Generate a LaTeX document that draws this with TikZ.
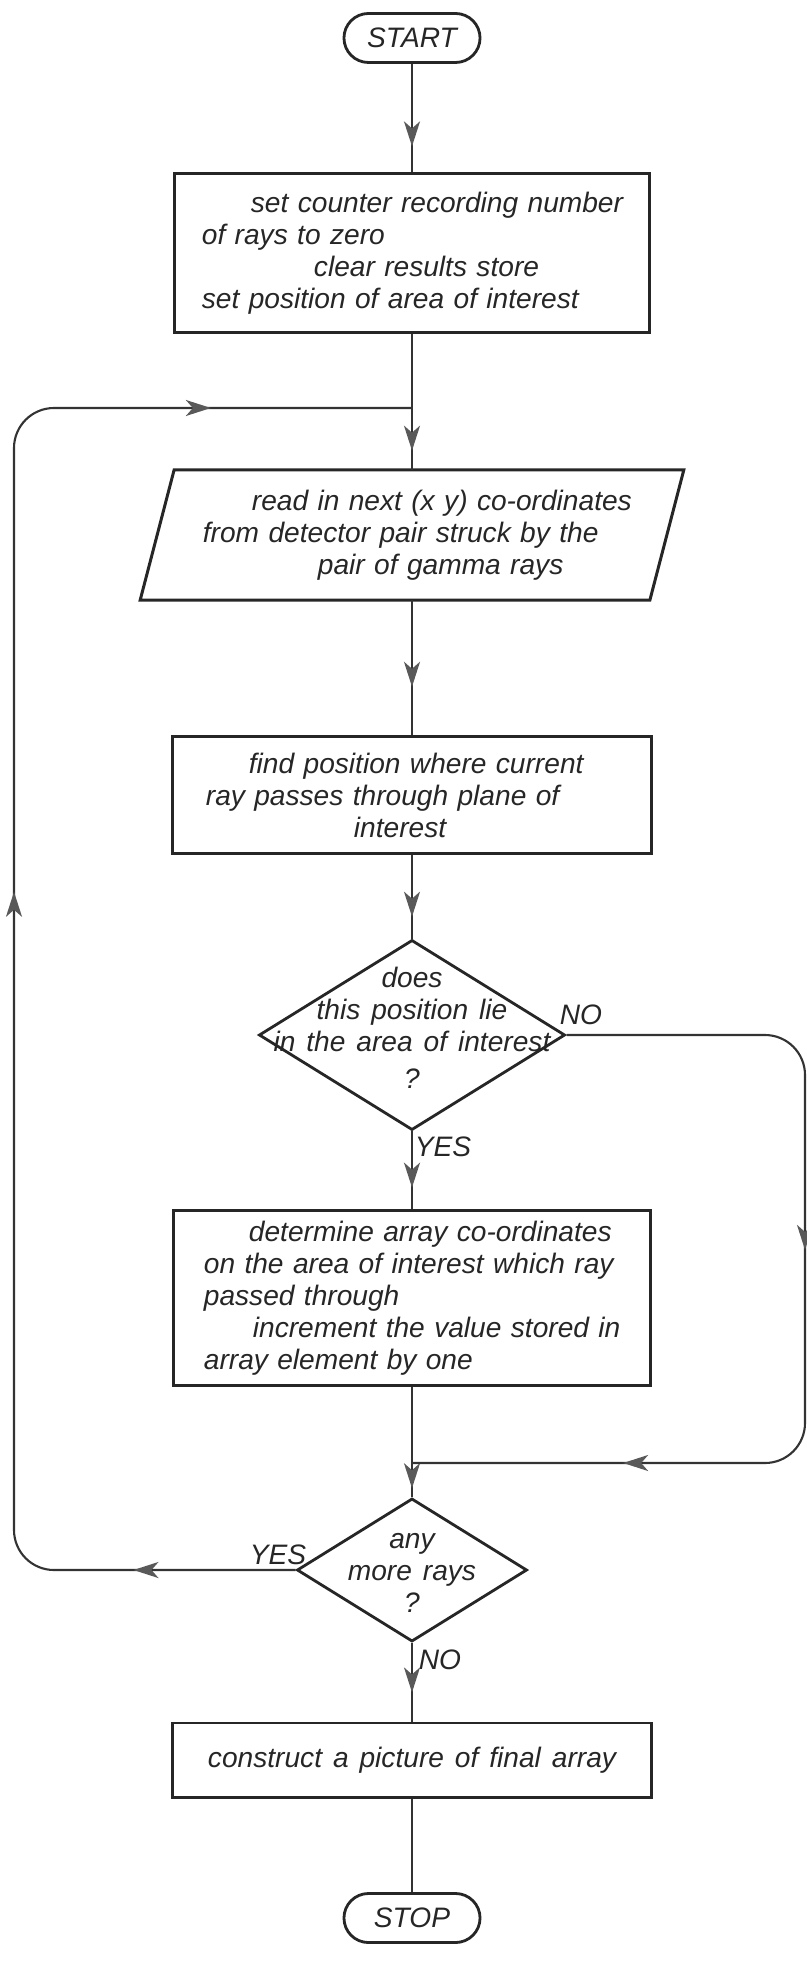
\documentclass[tikz,border=0pt]{standalone}
\usepackage{fontspec}
\setmainfont{Liberation Sans}[WordSpace=1.4]
\usepackage{tikz}
\usetikzlibrary{arrows.meta,shapes.geometric,decorations.markings}

\tikzset{flowtip/.tip={Stealth[length=2.5mm,width=1.6mm,inset=0.7mm,fill=black!65,color=black!65]}}

\begin{document}
\begin{tikzpicture}[x=0.01cm,y=-0.01cm,every node/.style={font=\fontsize{8}{9.1}\selectfont\itshape,text=black!85},
    term/.style={draw=black!85,rounded corners=0.245cm,line width=0.8pt,minimum height=0.49cm,minimum width=1.36cm,inner sep=0pt},
    box/.style={draw=black!85,line width=0.85pt,inner sep=0pt,align=left},
    dia/.style={draw=black!85,diamond,line width=0.8pt,inner sep=0pt},
    conn/.style={draw=black!80,line width=0.6pt,rounded corners=0.4cm},
    arrowat/.style={postaction={decorate,decoration={markings,mark=at position #1 with {\arrow{flowtip}}}}}]
                \useasboundingbox (0,0) rectangle (807,1976);

                \node[term] (start) at (412,38) {START};

                \node[box,minimum width=4.75cm,minimum height=1.58cm,text width=4.2cm] (set) at (412,253)
                    {\mbox{\hspace*{0.49cm}set counter recording number}\\\mbox{of rays to zero}\\
                     \mbox{\hspace*{1.12cm}clear results store}\\\mbox{set position of area of interest}};

                \node[align=left,minimum width=5.42cm,minimum height=1.29cm,text width=4.18cm,inner sep=0pt] (read) at (412,535)
                    {\mbox{\hspace*{0.49cm}read in next (x y) co-ordinates}\\\mbox{from detector pair struck by the}\\
                     \mbox{\hspace*{1.15cm}pair of gamma rays}};
                \draw[draw=black!85,line width=0.85pt] ([xshift=0.34cm]read.north west) -- (read.north east)
                    -- ([xshift=-0.34cm]read.south east) -- (read.south west) -- cycle;

                \node[box,minimum width=4.79cm,minimum height=1.16cm,text width=4.12cm] (find) at (412,795)
                    {\mbox{\hspace*{0.43cm}find position where current}\\\mbox{ray passes through plane of}\\
                     \mbox{\hspace*{1.48cm}interest}};

                \node[dia,minimum width=3.06cm,minimum height=1.9cm] (inside) at (412,1035) {};
                \node[align=center] (q1) at (412,1028) {does\\this position lie\\in the area of interest\\[0.5mm]?};
                \node (no1) at (581,1015) {NO};
                \node (yes1) at (443,1147) {YES};

                \node[box,minimum width=4.77cm,minimum height=1.74cm,text width=4.16cm] (incr) at (412,1298)
                    {\mbox{\hspace*{0.45cm}determine array co-ordinates}\\\mbox{on the area of interest which ray}\\
                     \mbox{passed through}\\\mbox{\hspace*{0.49cm}increment the value stored in}\\\mbox{array element by one}};

                \node[dia,minimum width=2.3cm,minimum height=1.43cm] (more) at (412,1570) {};
                \node[align=center] (q2) at (412,1573) {any\\more rays\\?};
                \node (yes2) at (278,1555) {YES};
                \node (no2) at (440,1660) {NO};

                \node[box,minimum width=4.78cm,minimum height=0.74cm,align=center] (pic) at (412,1760) {construct a picture of final array};

                \node[term] (stop) at (412,1918) {STOP};

                \coordinate (j1) at (412,408);
                \coordinate (j2) at (412,1463);
                \coordinate (lc) at (14,1570);
                \coordinate (rc) at (805,1463);

                \draw[conn,arrowat=0.76] (start) -- (set);
                \draw[conn,arrowat=0.86] (set) -- (read);
                \draw[conn,arrowat=0.64] (read) -- (find);
                \draw[conn,arrowat=0.74] (find) -- (inside);
                \draw[conn,arrowat=0.72] (inside) -- (incr);
                \draw[conn,arrowat=0.92] (incr) -- (more);
                \draw[conn,arrowat=0.63] (more) -- (pic);
                \draw[conn] (pic) -- (stop);

                \draw[conn,arrowat=4.36cm,arrowat=-2.11cm] (inside.east) -| (rc) -- (j2);
                \draw[conn,arrowat=1.62cm,arrowat=9.42cm,arrowat=-2.01cm] (more.west) -- (lc) |- (j1);
            \end{tikzpicture}
\end{document}
